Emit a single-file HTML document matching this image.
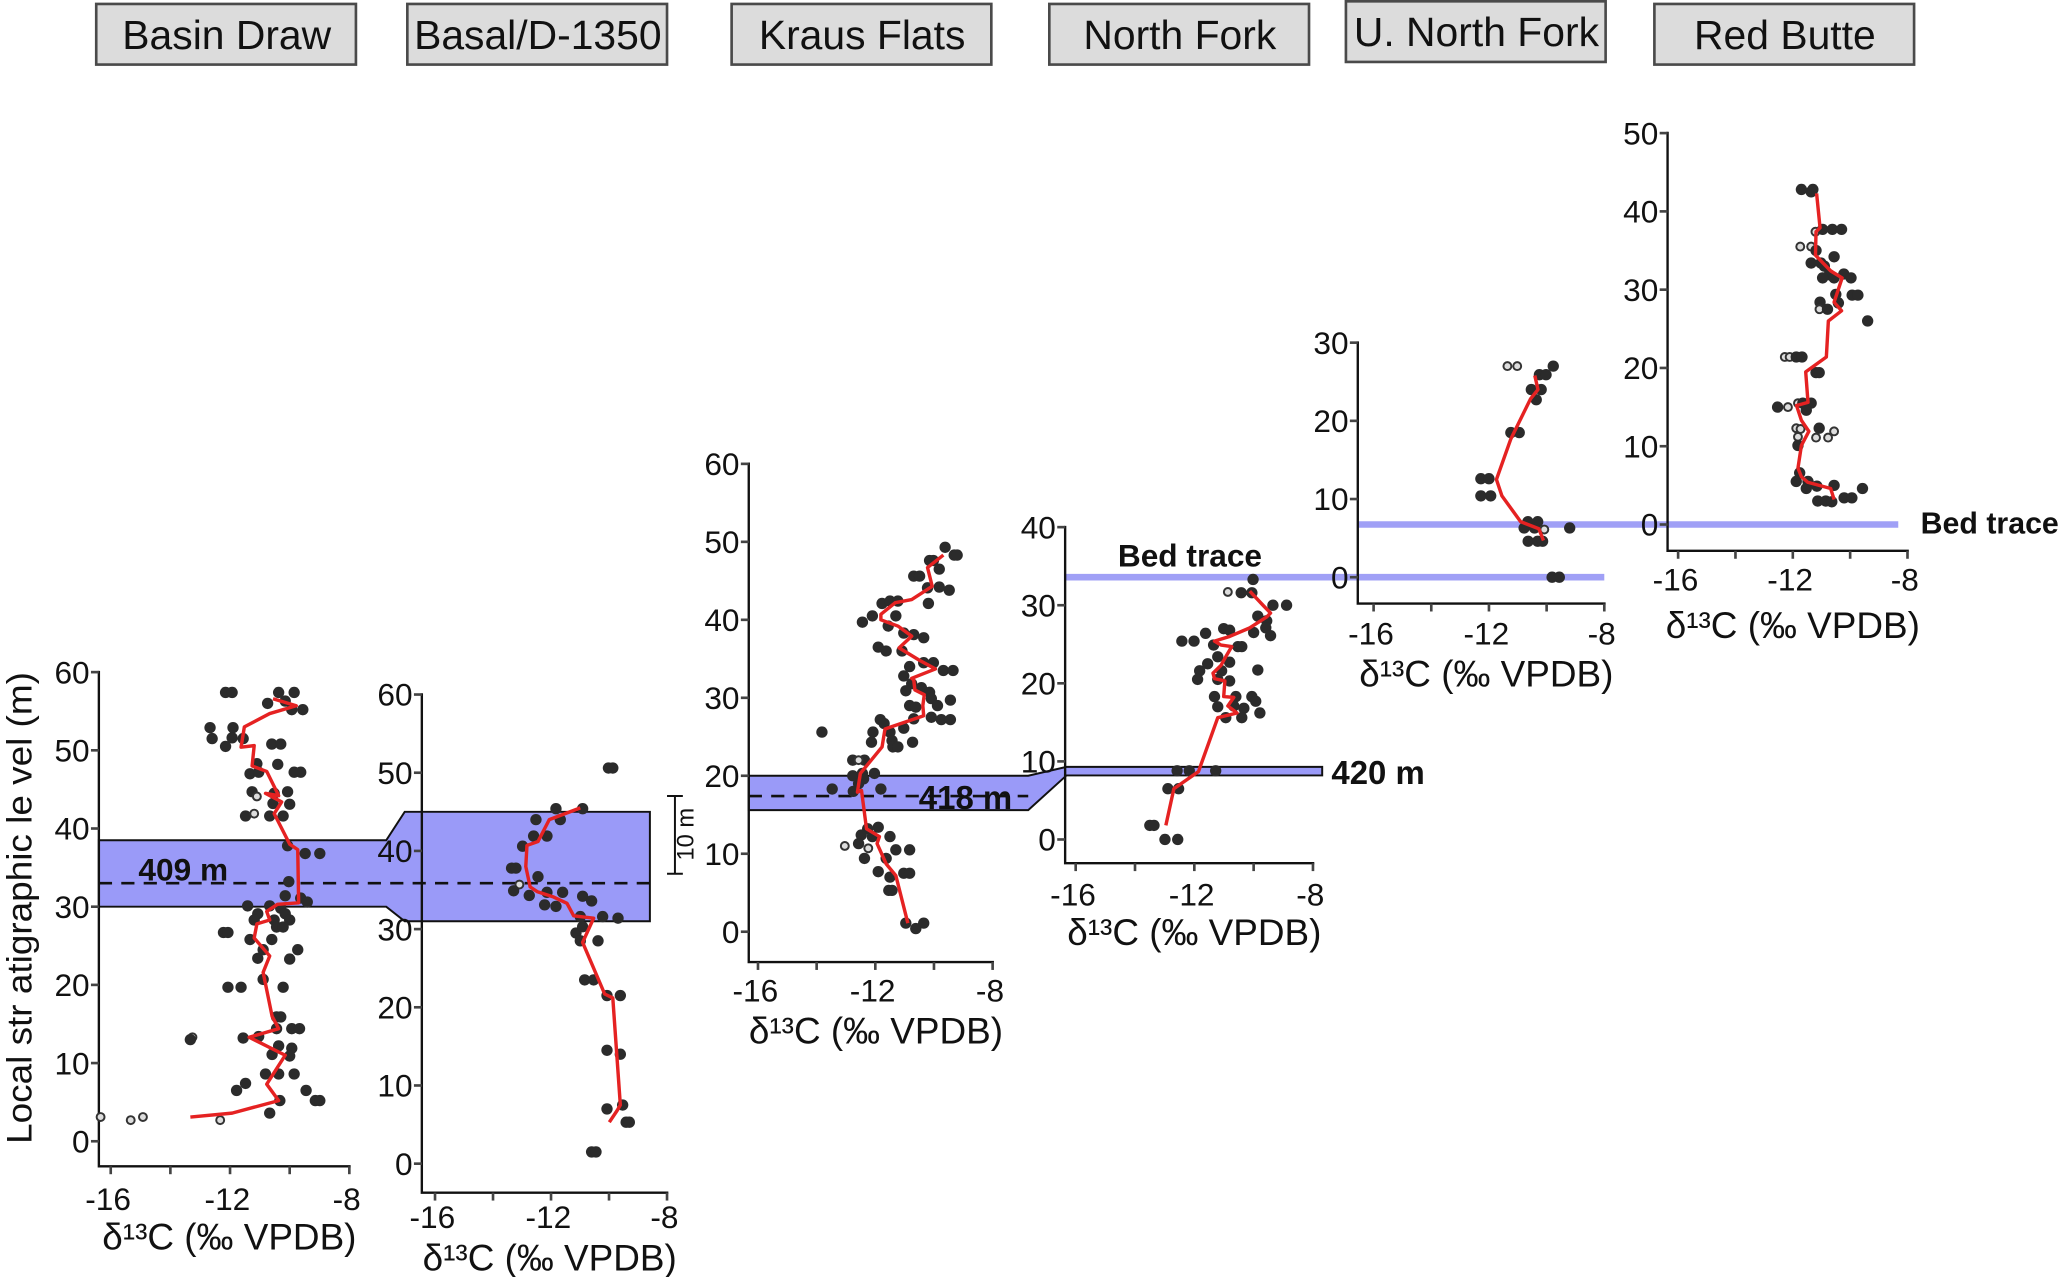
<!DOCTYPE html>
<html><head><meta charset="utf-8"><style>
html,body{margin:0;padding:0;background:#fff;}
svg{display:block;font-family:"Liberation Sans",Arial,sans-serif;}
</style></head><body>
<svg id="fig" width="2067" height="1277" viewBox="0 0 1568 969" preserveAspectRatio="none" xmlns="http://www.w3.org/2000/svg"></svg>
<script>
// ---- data: red line (delta, metres) and points per section ----
const bdLineD=[-13.33,-11.93,-10.37,-10.77,-10.15,-11.36,-10.37,-10.59,-10.89,-10.67,-11.19,-11.1,-10.67,-10.77,-10.41,-9.7,-9.73,-10.0,-10.52,-10.27,-10.81,-10.37,-10.77,-11.26,-11.19,-11.63,-11.52,-10.67,-9.78,-10.56];
const bdLineM=[3.1,3.6,5.2,7.3,11.0,13.3,14.4,16.0,21.6,23.7,26.0,27.8,28.3,29.4,30.3,30.5,37.3,38.0,41.9,43.4,44.5,44.2,47.3,48.0,50.6,50.4,53.0,54.7,55.7,56.6];
const bdPtD=[-12.15,-11.93,-10.37,-9.85,-10.74,-10.15,-9.93,-9.56,-12.67,-11.9,-12.6,-11.93,-11.56,-12.15,-10.6,-10.3,-11.1,-10.4,-11.33,-11.04,-9.85,-9.63,-11.26,-10.52,-10.07,-11.1,-10.56,-10.0,-11.48,-10.67,-10.22,-11.19,-10.07,-9.48,-8.99,-10.03,-10.15,-9.63,-9.41,-11.41,-10.67,-10.3,-11.07,-10.15,-11.19,-10.52,-10.0,-10.44,-10.22,-12.22,-12.07,-11.33,-10.6,-10.89,-9.73,-11.07,-10.0,-10.89,-12.07,-11.63,-10.22,-10.44,-10.3,-10.44,-9.93,-9.67,-11.56,-11.04,-13.26,-13.33,-10.37,-9.93,-10.59,-10.0,-10.81,-10.37,-9.85,-11.48,-11.78,-9.45,-9.14,-8.99,-10.33,-10.67,-16.34,-15.33,-14.92,-12.33];
const bdPtM=[57.4,57.4,57.4,57.4,56,56.3,55.2,55.2,52.9,52.9,51.5,51.6,51.5,50.5,50.8,50.8,48.3,48.2,47,47.2,47.2,47.2,44.7,44.5,44.7,44.1,43.2,43.1,41.6,41.6,41.6,41.9,37.8,36.8,36.8,33.2,31.4,31.1,30.6,30.1,30.1,29.8,29.1,29.1,28.3,28.3,28.3,27.4,27.4,26.7,26.7,25.8,25.8,24.5,24.5,23.4,23.3,20.7,19.7,19.7,19.7,15.9,15.9,14.4,14.4,14.4,13.2,13.4,13.3,13.0,12.2,11.9,11.1,10.9,8.6,8.6,8.6,7.4,6.5,6.5,5.2,5.2,5.2,3.6,3.1,2.7,3.1,2.7];
const bdPtOpen=[0,0,0,0,0,0,0,0,0,0,0,0,0,0,0,0,0,0,0,0,0,0,0,0,0,1,0,0,0,0,0,1,0,0,0,0,0,0,0,0,0,0,0,0,0,0,0,0,0,0,0,0,0,0,0,0,0,0,0,0,0,0,0,0,0,0,0,0,1,0,0,0,0,0,0,0,0,0,0,0,0,0,0,0,1,1,1,1];

const baLineD=[-9.99,-9.72,-9.61,-9.87,-10.15,-10.91,-10.53,-11.22,-11.45,-11.91,-12.48,-12.72,-12.87,-12.83,-12.45,-12.06,-10.99];
const baLineM=[5.3,6.8,7.5,21.2,21.7,28.3,31.4,31.7,33.3,34.1,34.8,35.4,38.0,40.7,41.2,44.0,45.5];
const baPtD=[-10.02,-9.87,-11.83,-10.91,-12.52,-11.68,-12.14,-12.6,-12.98,-13.36,-13.21,-12.45,-13.09,-13.29,-12.75,-12.14,-11.6,-12.22,-11.83,-10.91,-10.6,-10.99,-10.22,-9.69,-11.14,-10.91,-10.99,-10.38,-10.84,-10.53,-10.07,-9.61,-10.07,-9.61,-10.07,-9.53,-9.41,-9.3,-10.6,-10.45];
const baPtM=[50.6,50.6,45.4,45.4,44.0,44.0,41.9,41.9,40.6,37.8,37.8,36.7,35.7,34.9,34.3,34.7,34.7,33.1,32.9,34.2,33.6,31.6,31.6,31.4,29.5,30.3,28.5,28.5,23.5,23.5,21.5,21.5,14.5,14.0,7.0,7.5,5.3,5.3,1.5,1.5];
const baPtOpen=[0,0,0,0,0,0,0,0,0,0,0,0,1,0,0,0,0,0,0,0,0,0,0,0,0,0,0,0,0,0,0,0,0,0,0,0,0,0,0,0];

const kfLineD=[-10.89,-11.3,-11.63,-11.94,-11.86,-12.3,-12.47,-12.61,-12.51,-11.77,-11.67,-10.35,-10.38,-10.33,-10.65,-10.69,-10.76,-9.95,-10.49,-11.19,-10.76,-11.23,-11.81,-11.81,-11.32,-10.76,-10.06,-10.22,-9.68];
const kfLineM=[1.1,7.2,8.7,11.3,12.2,13.2,18.1,17.9,20.3,23.7,26.0,27.7,29.0,30.4,31.0,32.3,32.5,33.7,34.8,36.4,37.9,39.2,40.0,40.7,42.2,42.6,44.3,46.7,48.3];
const kfPtD=[-9.62,-9.31,-9.21,-10.15,-10.02,-9.82,-10.69,-10.49,-10.22,-9.82,-9.48,-11.77,-11.5,-11.23,-10.19,-12.44,-12.1,-11.3,-11.56,-11.03,-10.69,-10.35,-11.9,-11.63,-11.09,-10.35,-10.02,-9.68,-9.35,-10.83,-11.03,-10.76,-10.96,-10.43,-10.15,-10.09,-10.83,-10.62,-9.88,-9.44,-11.83,-11.7,-11.03,-10.69,-10.09,-9.75,-9.44,-13.82,-12.08,-11.5,-12.13,-11.43,-10.73,-11.4,-11.23,-12.77,-12.37,-12.57,-12.77,-12.44,-12.03,-12.57,-12.4,-13.47,-12.75,-11.81,-12.26,-11.9,-12.48,-12.1,-11.5,-13.04,-12.57,-12.24,-11.3,-10.83,-12.37,-11.63,-11.9,-11.03,-10.83,-11.5,-11.54,-11.43,-10.96,-10.62,-10.35];
const kfPtM=[49.3,48.3,48.3,47.6,47.6,46.5,45.6,45.6,44.1,44.2,43.8,42.1,42.4,42.4,42.1,39.7,40.5,40.5,39.2,38.3,38.1,37.7,36.5,36.0,36.0,34.5,34.5,33.5,33.5,34.0,32.8,31.8,30.9,31.3,30.7,29.9,29.0,28.8,29.0,29.7,27.2,26.7,26.1,27.3,27.5,27.2,27.2,25.6,25.6,25.6,24.3,24.5,24.3,23.7,23.7,22.0,22.0,22.0,20.0,20.3,20.3,19.0,19.6,18.3,18.0,18.3,13.2,13.4,12.4,12.2,12.2,11.0,11.3,10.7,10.5,10.5,9.4,9.4,7.7,7.5,7.5,7.0,5.3,5.3,1.1,0.4,1.1];
const kfPtOpen=[0,0,0,0,0,0,0,0,0,0,0,0,0,0,0,0,0,0,0,0,0,0,0,0,0,0,0,0,0,0,0,0,0,0,0,0,0,0,0,0,0,0,0,0,0,0,0,0,0,0,0,0,0,0,0,0,0,1,0,0,0,0,0,0,0,0,0,0,0,0,0,1,0,1,0,0,0,0,0,0,0,0,0,0,0,0,0];

const nfLineD=[-12.96,-12.69,-11.86,-11.21,-10.56,-10.87,-10.67,-11.01,-10.97,-11.32,-11.37,-11.1,-10.91,-10.74,-11.1,-11.32,-10.81,-10.13,-9.56,-9.43,-9.66,-10.13];
const nfLineM=[1.8,6.5,8.7,15.6,16.2,17.1,18.2,18.3,20.3,20.6,21.3,22.3,23.6,24.7,24.9,25.4,26.0,27.1,28.5,29.0,29.9,31.8];
const nfPtD=[-10.02,-10.87,-10.42,-10.06,-9.35,-8.89,-9.86,-9.56,-9.59,-9.43,-11.62,-11.01,-10.81,-10.0,-12.42,-12.01,-11.35,-10.53,-10.4,-11.21,-10.81,-11.55,-11.82,-11.08,-9.86,-11.89,-11.21,-10.81,-11.32,-10.6,-10.06,-11.21,-10.67,-10.33,-9.93,-10.94,-10.4,-9.79,-12.58,-12.17,-11.28,-12.89,-12.53,-13.5,-13.36,-12.99,-12.56];
const nfPtM=[33.3,31.7,31.6,31.6,30.0,30.0,28.6,28.0,27.1,26.1,26.4,27.0,26.8,26.5,25.4,25.4,24.9,24.7,24.7,23.4,22.7,22.5,21.6,21.6,21.7,20.5,20.5,20.3,18.3,18.3,18.3,17.0,17.1,16.8,17.7,15.6,15.6,16.2,8.8,8.8,8.8,6.5,6.5,1.8,1.8,0,0];
const nfPtOpen=[0,1,0,0,0,0,0,0,0,0,0,0,0,0,0,0,0,0,0,0,0,0,0,0,0,0,0,0,0,0,0,0,0,0,0,0,0,0,0,0,0,0,0,0,0,0,0];

const unLineD=[-10.11,-10.27,-10.9,-11.55,-11.74,-11.24,-10.56,-10.3,-10.41];
const unLineM=[4.7,6.2,7.1,10.4,12.5,17.7,22.8,24.0,25.8];
const unPtD=[-11.36,-11.02,-9.77,-10.25,-10.02,-10.53,-10.19,-10.36,-11.24,-10.95,-12.28,-12.0,-12.28,-11.94,-10.65,-10.31,-10.78,-10.42,-10.08,-9.2,-10.64,-10.31,-10.14,-9.81,-9.56];
const unPtM=[27.0,27.0,27.0,25.9,25.9,24.0,24.0,22.7,18.5,18.5,12.6,12.6,10.4,10.4,7.1,7.1,6.3,6.3,6.1,6.3,4.6,4.6,4.6,0,0];
const unPtOpen=[1,1,0,0,0,0,0,0,0,0,0,0,0,0,0,0,0,0,1,0,0,0,0,0,0];

const rbLineD=[-10.56,-10.68,-11.48,-11.7,-11.82,-11.7,-11.44,-11.7,-11.87,-11.47,-11.55,-10.83,-10.76,-10.3,-10.56,-10.28,-10.68,-11.21,-11.19,-11.05,-11.17];
const rbLineM=[3.2,4.6,5.4,6.1,7.2,10.1,11.9,13.3,15.2,15.6,19.5,21.4,26.0,27.3,28.4,31.5,32.4,34.4,37.4,37.9,42.3];
const rbPtD=[-11.7,-11.36,-11.3,-11.21,-10.96,-10.62,-10.3,-11.74,-11.36,-11.19,-10.56,-11.36,-11.02,-10.9,-10.73,-10.22,-9.97,-10.96,-10.56,-10.5,-9.93,-9.73,-11.05,-10.41,-11.07,-10.79,-9.39,-12.28,-12.11,-11.88,-11.68,-11.19,-11.08,-12.53,-12.17,-11.82,-11.65,-11.36,-11.53,-11.88,-11.73,-11.08,-10.56,-11.82,-11.19,-10.77,-11.82,-11.76,-11.88,-11.47,-11.53,-11.16,-10.56,-9.57,-11.13,-10.85,-10.64,-10.21,-9.94];
const rbPtM=[42.8,42.5,42.8,37.4,37.7,37.7,37.7,35.5,35.5,35.0,34.2,33.4,33.4,33.0,31.9,32.0,31.5,31.5,31.5,29.4,29.3,29.3,28.4,28.3,27.5,27.5,26.0,21.4,21.4,21.4,21.4,19.4,19.4,15.0,15.0,15.5,15.5,15.5,14.6,12.3,12.2,12.3,11.9,11.2,11.1,11.1,10.1,6.6,5.5,5.5,4.6,4.9,5.0,4.6,3.0,3.0,2.9,3.4,3.4];
const rbPtOpen=[0,0,0,1,0,0,0,1,1,0,0,0,0,0,0,0,0,0,0,0,0,0,0,0,1,0,0,1,1,0,0,0,0,0,1,1,0,0,0,1,1,0,1,1,1,1,0,0,0,0,0,0,0,0,0,0,0,0,0];

const xTickVals=[-16,-14,-12,-10,-8];
const xLabelVals=[-16,-12,-8];

// ---- layout ----
const NS="http://www.w3.org/2000/svg";
const svg=document.getElementById('fig');
function el(tag,attrs,parent){const e=document.createElementNS(NS,tag);for(const k in attrs)e.setAttribute(k,attrs[k]);(parent||svg).appendChild(e);return e;}

const panels=[
 {key:'basin-draw',title:'Basin Draw',ax:75,y0:866,pm:5.933,mMax:60,x16:84,x8:265,bot:885,lab:918,tit:948,ld:bdLineD,lm:bdLineM,pd:bdPtD,pm2:bdPtM,po:bdPtOpen},
 {key:'basal',title:'Basal/D-1350',ax:320,y0:883,pm:5.933,mMax:60,x16:330,x8:506,bot:905,lab:932,tit:964,ld:baLineD,lm:baLineM,pd:baPtD,pm2:baPtM,po:baPtOpen},
 {key:'kraus-flats',title:'Kraus Flats',ax:568,y0:707,pm:5.917,mMax:60,x16:575,x8:753,bot:730,lab:760,tit:792,ld:kfLineD,lm:kfLineM,pd:kfPtD,pm2:kfPtM,po:kfPtOpen},
 {key:'north-fork',title:'North Fork',ax:808,y0:637,pm:5.925,mMax:40,x16:816,x8:996,bot:655,lab:687,tit:717,ld:nfLineD,lm:nfLineM,pd:nfPtD,pm2:nfPtM,po:nfPtOpen},
 {key:'u-north-fork',title:'U. North Fork',ax:1030,y0:438,pm:5.933,mMax:30,x16:1042,x8:1217,bot:458,lab:489,tit:521,ld:unLineD,lm:unLineM,pd:unPtD,pm2:unPtM,po:unPtOpen},
 {key:'red-butte',title:'Red Butte',ax:1265,y0:398,pm:5.94,mMax:50,x16:1273,x8:1447,bot:418,lab:448,tit:484,ld:rbLineD,lm:rbLineM,pd:rbPtD,pm2:rbPtM,po:rbPtOpen}
];
const headers=[[73,3],[309,3],[555,3],[796,3],[1021,1],[1255,3]];
function yS(p,m){return p.y0-m*p.pm;}
function xS(p,d){return p.x16+(d+16)*(p.x8-p.x16)/8;}

panels.forEach((p,i)=>{
  const g=el('g',{});
  
  
  const [hx,hy]=headers[i];
  el('rect',{x:hx,y:hy,width:197,height:46,fill:'#dcdcdc',stroke:'#4a4a4a','stroke-width':2},g);
  const t=el('text',{x:hx+99,y:hy+34,'font-size':31,'text-anchor':'middle',fill:'#111'},g);t.textContent=p.title;
});

const P1=panels[0],P2=panels[1],P3=panels[2],P4=panels[3],P5=panels[4],P6=panels[5];
let b=el('polygon',{points:`${P1.ax},${yS(P1,38.5)} 293,${yS(P1,38.5)} 307,${yS(P2,45)} 493,${yS(P2,45)} 493,${yS(P2,31)} 307,${yS(P2,31)} 293,${yS(P1,30)} ${P1.ax},${yS(P1,30)}`,fill:'#9a9af8',stroke:'#111','stroke-width':1.5});

b=el('line',{x1:P1.ax,x2:493,y1:yS(P1,33),y2:yS(P1,33),stroke:'#111','stroke-width':2,'stroke-dasharray':'10,7'});

b=el('polygon',{points:`${P3.ax},${yS(P3,20)} 780,${yS(P3,20)} 809,${yS(P4,9.3)} 1003,${yS(P4,9.3)} 1003,${yS(P4,8.2)} 809,${yS(P4,8.2)} 780,${yS(P3,15.6)} ${P3.ax},${yS(P3,15.6)}`,fill:'#9a9af8',stroke:'#111','stroke-width':1.5});

b=el('line',{x1:P3.ax,x2:780,y1:yS(P3,17.4),y2:yS(P3,17.4),stroke:'#111','stroke-width':2,'stroke-dasharray':'10,7'});

b=el('line',{x1:808,x2:1217,y1:yS(P5,0),y2:yS(P5,0),stroke:'#a0a0f6','stroke-width':5});

b=el('line',{x1:1030,x2:1440,y1:yS(P6,0),y2:yS(P6,0),stroke:'#a0a0f6','stroke-width':5});


panels.forEach(p=>{
  const g=el('g',{});
  
  
  const top=yS(p,p.mMax);
  el('path',{d:`M${p.ax},${top-1} V${p.bot} H${p.x8+1}`,fill:'none',stroke:'#111','stroke-width':1.8},g);
  for(let m=0;m<=p.mMax;m+=10){
    const y=yS(p,m);
    el('line',{x1:p.ax-6,x2:p.ax,y1:y,y2:y,stroke:'#444','stroke-width':2},g);
    const t=el('text',{x:p.ax-7,y:y+8.5,'font-size':24,'text-anchor':'end',fill:'#111'},g);
    
    t.textContent=m;
  }
  xTickVals.forEach(v=>{const x=xS(p,v);el('line',{x1:x,x2:x,y1:p.bot,y2:p.bot+6,stroke:'#444','stroke-width':2},g);});
  xLabelVals.forEach(v=>{
    const t=el('text',{x:xS(p,v)-2,y:p.lab,'font-size':24,'text-anchor':'middle',fill:'#111'},g);
    
    t.textContent=v;
  });
  const tt=el('text',{x:(p.ax+p.x8)/2+4,y:p.tit,'font-size':28,'text-anchor':'middle',fill:'#111'},g);
  
  tt.textContent='δ\u00b9\u00b3C (‰ VPDB)';
  for(let i=0;i<p.pd.length;i++){
    const c=el('circle',{cx:xS(p,p.pd[i]),cy:yS(p,p.pm2[i]),r:p.po[i]?3:4.3,fill:p.po[i]?'#dddddd':'#2b2b2b',stroke:p.po[i]?'#333':'none','stroke-width':1.5},g);
    
    
  }
  const pts=p.ld.map((d,i)=>xS(p,d)+','+yS(p,p.lm[i])).join(' ');
  const l=el('polyline',{points:pts,fill:'none',stroke:'#e52222','stroke-width':2.6,'stroke-linejoin':'round'},g);
  
  
});

function txt(x,y,s,size,name,extra){const t=el('text',Object.assign({x:x,y:y,'font-size':size,fill:'#111'},extra||{}));t.textContent=s;return t;}
txt(105,668,'409 m',24,'label-409m',{'font-weight':'bold'});
txt(697,614,'418 m',25,'label-418m',{'font-weight':'bold'});
txt(1010,595,'420 m',25,'label-420m',{'font-weight':'bold'});
txt(848,430,'Bed trace',24,'bed-trace-label-1',{'font-weight':'bold'});
txt(1457,405,'Bed trace',23,'bed-trace-label-2',{'font-weight':'bold'});
txt(0,0,'Local str atigraphic le vel (m)',27,'y-axis-title',{transform:'translate(24,689) rotate(-90)','text-anchor':'middle',textLength:358,lengthAdjust:'spacingAndGlyphs'});
const sb=el('path',{d:'M506,604 H518 M512,604 V663 M506,663 H518',stroke:'#111','stroke-width':1.5,fill:'none'});

txt(0,0,'10 m',18,'scale-bar-label',{transform:'translate(526,633) rotate(-90)','text-anchor':'middle'});
</script>
</body></html>
